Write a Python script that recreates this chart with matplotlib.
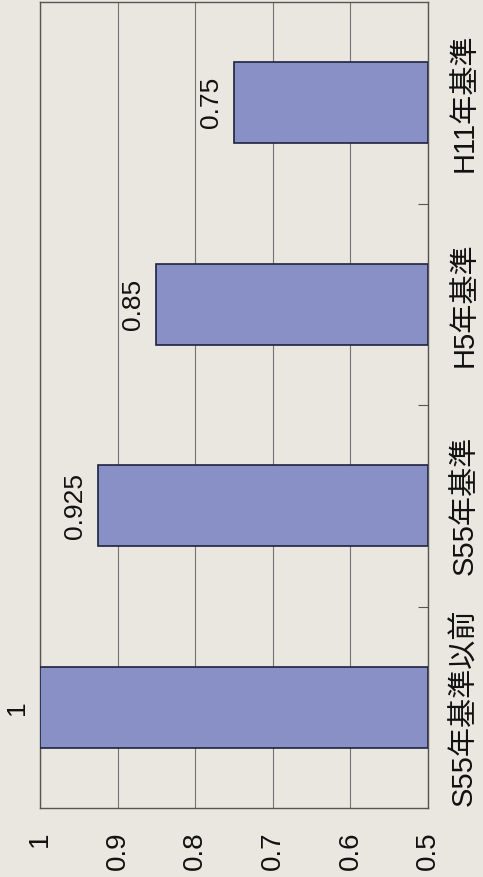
import numpy as np
import matplotlib
matplotlib.use('Agg')
import matplotlib.pyplot as plt
from matplotlib.ticker import FixedLocator

plt.rcParams['font.family'] = ['Liberation Sans', 'Noto Sans CJK JP']

# データ
categories = ['S55年基準以前', 'S55年基準', 'H5年基準', 'H11年基準']
values = [1, 0.925, 0.85, 0.75]
value_labels = ['1', '0.925', '0.85', '0.75']
tick_values = [1, 0.9, 0.8, 0.7, 0.6, 0.5]
tick_labels = ['1', '0.9', '0.8', '0.7', '0.6', '0.5']

paper = '#e9e7df'
bar_color = '#8890c6'

fig = plt.figure(figsize=(4.83, 8.77), dpi=100, facecolor=paper)
ax = fig.add_axes([40 / 483, 1 - 808 / 877, (428 - 40) / 483, (808 - 2) / 877])
ax.set_facecolor(paper)

pos = np.arange(len(categories))
ax.barh(pos, [v - 0.5 for v in values], left=0.5, height=0.4,
        color=bar_color, edgecolor='#1f2340', linewidth=1.2, zorder=3)

# 値ラベル(90度回転)
for p, v, lab in zip(pos, values, value_labels):
    ax.annotate(lab, xy=(v, p), xytext=(-8, 0), textcoords='offset points',
                rotation=90, ha='right', va='center', fontsize=19, color='#111111')

ax.set_xlim(1, 0.5)
ax.set_ylim(-0.5, len(categories) - 0.5)

# 値軸(下)
ax.set_xticks(tick_values)
ax.set_xticklabels(tick_labels, rotation=90, fontsize=20, color='#111111')
ax.tick_params(axis='x', length=0, pad=17)
ax.grid(axis='x', color='#747474', linewidth=0.8, zorder=0)

# カテゴリ軸(右)
ax.yaxis.tick_right()
ax.set_yticks(pos)
ax.set_yticklabels(categories, rotation=90, va='center', fontsize=21, color='#111111')
ax.tick_params(axis='y', which='major', length=0, pad=16)
ax.yaxis.set_minor_locator(FixedLocator([0.5, 1.5, 2.5]))
ax.tick_params(axis='y', which='minor', direction='in', length=7, width=0.8,
               color='#555555', right=True, left=False)

for s in ax.spines.values():
    s.set_color('#555555')
    s.set_linewidth(1.0)

fig.savefig('out.png', dpi=100, facecolor=paper)
